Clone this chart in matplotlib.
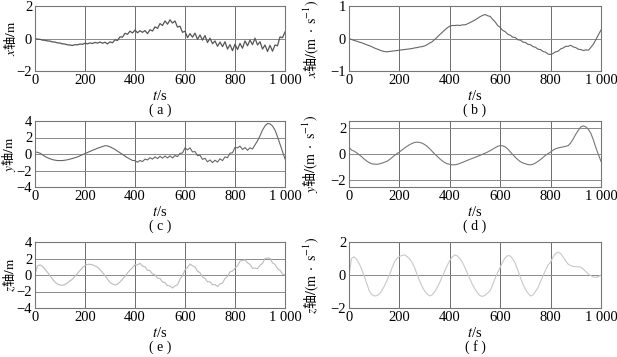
import matplotlib
matplotlib.use("Agg")
import matplotlib.pyplot as plt
import numpy as np

plt.rcParams["font.family"] = ["Liberation Serif", "Noto Sans CJK SC"]
plt.rcParams["mathtext.fontset"] = "stix"
plt.rcParams["axes.unicode_minus"] = True

# ── Data (t step 10 s) ───────────────────────────────────────────────────────
t = np.arange(0, 1001, 10)

x_pos = [0.00, -0.04, -0.05, -0.10, -0.11, -0.15, -0.16, -0.21, -0.22, -0.27,
         -0.28, -0.33, -0.34, -0.39, -0.40, -0.43, -0.38, -0.39, -0.34, -0.36,
         -0.29, -0.33, -0.27, -0.31, -0.24, -0.28, -0.22, -0.29, -0.23, -0.33,
         -0.21, -0.26, -0.08, -0.12, 0.10, 0.08, 0.32, 0.26, 0.45, 0.34,
         0.52, 0.35, 0.48, 0.38, 0.49, 0.30, 0.54, 0.46, 0.72, 0.62,
         0.92, 0.80, 1.08, 0.88, 1.15, 0.95, 1.08, 0.70, 0.76, 0.38,
         0.45, 0.05, 0.30, 0.08, 0.33, -0.05, 0.22, -0.10, 0.18, -0.25,
         0.02, -0.32, -0.15, -0.48, -0.22, -0.50, -0.20, -0.65, -0.38, -0.75,
         -0.35, -0.68, -0.30, -0.60, -0.15, -0.45, -0.10, -0.38, 0.02, -0.40,
         -0.20, -0.65, -0.40, -0.80, -0.42, -0.78, -0.40, -0.45, 0.10, 0.05,
         0.40]

x_vel = [0.00, -0.03, -0.06, -0.08, -0.11, -0.13, -0.16, -0.19, -0.22, -0.25,
         -0.29, -0.32, -0.35, -0.38, -0.40, -0.41, -0.40, -0.39, -0.38, -0.37,
         -0.36, -0.35, -0.34, -0.33, -0.32, -0.31, -0.29, -0.28, -0.26, -0.25,
         -0.23, -0.19, -0.14, -0.10, -0.03, 0.04, 0.12, 0.19, 0.26, 0.33,
         0.38, 0.40, 0.40, 0.41, 0.40, 0.42, 0.42, 0.45, 0.49, 0.53,
         0.57, 0.62, 0.67, 0.71, 0.74, 0.70, 0.68, 0.59, 0.51, 0.40,
         0.34, 0.25, 0.21, 0.13, 0.10, 0.04, 0.03, -0.04, -0.05, -0.11,
         -0.12, -0.18, -0.19, -0.25, -0.27, -0.33, -0.34, -0.40, -0.42, -0.48,
         -0.49, -0.46, -0.41, -0.39, -0.32, -0.29, -0.24, -0.24, -0.21, -0.26,
         -0.28, -0.33, -0.34, -0.37, -0.35, -0.36, -0.27, -0.17, -0.03, 0.12,
         0.26]

y_pos = [0.25, 0.20, 0.10, -0.10, -0.30, -0.45, -0.58, -0.68, -0.75, -0.79,
         -0.80, -0.79, -0.75, -0.70, -0.62, -0.55, -0.45, -0.35, -0.22, -0.08,
         0.05, 0.18, 0.32, 0.45, 0.57, 0.70, 0.80, 0.90, 1.00, 0.98,
         0.87, 0.72, 0.55, 0.35, 0.15, -0.05, -0.25, -0.45, -0.62, -0.78,
         -0.80, -1.00, -0.78, -0.92, -0.62, -0.72, -0.45, -0.62, -0.35, -0.55,
         -0.28, -0.50, -0.25, -0.48, -0.22, -0.48, -0.18, -0.32, 0.08, 0.12,
         0.75, 0.50, 0.75, 0.25, 0.30, -0.20, -0.15, -0.65, -0.52, -0.95,
         -0.72, -1.05, -0.75, -0.98, -0.58, -0.80, -0.35, -0.45, 0.10, 0.15,
         0.80, 0.75, 0.95, 0.55, 0.78, 0.45, 0.75, 0.60, 1.10, 1.60,
         2.20, 2.90, 3.40, 3.70, 3.65, 3.40, 2.90, 2.10, 1.20, 0.30,
         -0.60]

y_vel = [0.50, 0.30, 0.22, 0.10, -0.05, -0.20, -0.38, -0.53, -0.65, -0.74,
         -0.77, -0.78, -0.75, -0.70, -0.63, -0.56, -0.43, -0.28, -0.12, 0.02,
         0.15, 0.30, 0.45, 0.58, 0.70, 0.80, 0.87, 0.90, 0.88, 0.82,
         0.72, 0.58, 0.40, 0.20, 0.00, -0.18, -0.36, -0.52, -0.65, -0.74,
         -0.78, -0.82, -0.82, -0.78, -0.71, -0.64, -0.56, -0.48, -0.40, -0.33,
         -0.26, -0.18, -0.10, -0.02, 0.06, 0.15, 0.25, 0.36, 0.48, 0.58,
         0.64, 0.62, 0.54, 0.38, 0.17, -0.05, -0.25, -0.43, -0.58, -0.68,
         -0.74, -0.80, -0.82, -0.78, -0.68, -0.56, -0.42, -0.26, -0.10, 0.03,
         0.15, 0.30, 0.40, 0.46, 0.50, 0.54, 0.58, 0.64, 0.85, 1.15,
         1.50, 1.80, 2.05, 2.13, 2.05, 1.87, 1.55, 1.05, 0.46, -0.05,
         -0.56]

z_pos = [0.10, 1.10, 1.23, 1.05, 0.70, 0.33, -0.10, -0.50, -0.85, -1.10,
         -1.20, -1.25, -1.15, -0.95, -0.70, -0.50, -0.15, 0.20, 0.55, 0.90,
         1.15, 1.28, 1.30, 1.22, 1.10, 0.95, 0.65, 0.30, -0.05, -0.50,
         -0.90, -1.10, -1.20, -1.10, -0.85, -0.50, -0.15, 0.25, 0.60, 0.90,
         1.25, 1.22, 1.42, 1.08, 0.98, 0.58, 0.52, 0.12, 0.02, -0.38,
         -0.42, -0.85, -0.92, -1.30, -1.32, -1.58, -1.32, -1.20, -0.52, -0.08,
         0.62, 0.92, 1.33, 1.12, 0.98, 0.47, 0.28, -0.23, -0.42, -0.83,
         -0.82, -1.18, -1.17, -1.38, -1.07, -0.98, -0.42, -0.18, 0.38, 0.47,
         0.83, 1.12, 1.68, 1.77, 1.83, 1.47, 1.28, 0.82, 0.83, 0.77,
         1.18, 1.42, 1.98, 2.07, 2.03, 1.47, 1.28, 0.77, 0.58, 0.12,
         0.00]

z_vel = [0.00, 1.00, 1.10, 0.95, 0.70, 0.37, -0.05, -0.50, -0.95, -1.18,
         -1.27, -1.25, -1.16, -0.95, -0.68, -0.35, 0.00, 0.40, 0.78, 1.00,
         1.13, 1.18, 1.22, 1.12, 0.98, 0.78, 0.45, 0.05, -0.35, -0.70,
         -0.96, -1.15, -1.27, -1.20, -1.02, -0.76, -0.45, -0.10, 0.25, 0.58,
         0.88, 1.10, 1.22, 1.15, 1.00, 0.78, 0.45, 0.10, -0.25, -0.58,
         -0.86, -1.08, -1.25, -1.30, -1.22, -1.10, -0.96, -0.60, -0.20, 0.15,
         0.47, 0.80, 1.05, 1.18, 1.15, 0.98, 0.70, 0.30, -0.15, -0.55,
         -0.86, -1.10, -1.27, -1.22, -1.00, -0.76, -0.40, -0.05, 0.30, 0.60,
         0.78, 1.10, 1.30, 1.39, 1.30, 1.08, 0.85, 0.65, 0.57, 0.52,
         0.50, 0.50, 0.47, 0.35, 0.20, 0.06, -0.05, -0.12, -0.14, -0.10,
         0.00]

x_ticks = [0, 200, 400, 600, 800, 1000]
x_ticklabels = ["0", "200", "400", "600", "800", "1 000"]

# ── Panels ───────────────────────────────────────────────────────────────────
VEL_UNIT = r"$\mathrm{/(m\ \cdot\ s^{-1})}$"
PANELS = [
    # series, ylim, yticks, ylabel, colour, line width, caption
    (x_pos, (-2, 2), [-2, 0, 2], r"$x$轴$\mathrm{/m}$", "#555555", 0.9, "( a )"),
    (x_vel, (-1, 1), [-1, 0, 1], r"$x$轴" + VEL_UNIT, "#666666", 0.8, "( b )"),
    (y_pos, (-4, 4), [-4, -2, 0, 2, 4], r"$y$轴$\mathrm{/m}$", "#666666", 0.8, "( c )"),
    (y_vel, (-2.5, 2.5), [-2, 0, 2], r"$y$轴" + VEL_UNIT, "#777777", 0.8, "( d )"),
    (z_pos, (-4, 4), [-4, -2, 0, 2, 4], r"$z$轴$\mathrm{/m}$", "#bbbbbb", 0.8, "( e )"),
    (z_vel, (-2, 2), [-2, 0, 2], r"$z$轴" + VEL_UNIT, "#c8c8c8", 0.8, "( f )"),
]

W, H = 617, 357
fig = plt.figure(figsize=(W / 100, H / 100), dpi=100)

# axes boxes in pixels: left, top, width, height
lefts = [35, 349]
widths = [250, 252]
tops = [6, 121, 242]
heights = [65, 66, 66]

for k, (vals, ylim, yt, ylab, col, lw, cap) in enumerate(PANELS):
    row, c = divmod(k, 2)
    l, w = lefts[c], widths[c]
    tp, h = tops[row], heights[row]
    ax = fig.add_axes([l / W, 1 - (tp + h) / H, w / W, h / H])

    for gx in x_ticks[1:-1]:
        ax.axvline(gx, color="#555555", lw=0.6, zorder=1)
    for gy in yt:
        if ylim[0] < gy < ylim[1]:
            ax.axhline(gy, color="#8a8a8a", lw=0.7, zorder=1)

    ax.plot(t, vals, color=col, lw=lw, zorder=2)

    ax.set_xlim(0, 1000)
    ax.set_ylim(*ylim)
    ax.set_xticks(x_ticks)
    ax.set_xticklabels(x_ticklabels)
    ax.set_yticks(yt)
    ax.tick_params(length=0, labelsize=10.5, pad=2)
    for s in ax.spines.values():
        s.set_color("#777777")
        s.set_linewidth(0.8)

    ax.set_ylabel(ylab, family="Noto Sans CJK SC", fontsize=9.5 if c == 0 else 10)
    ax.yaxis.set_label_coords(-0.07 if c == 0 else -0.11, 0.5)

    ax.annotate(r"$t$/s", xy=(0.5, 0), xycoords="axes fraction",
                xytext=(0, -25), textcoords="offset pixels",
                ha="center", va="center", fontsize=10.5)
    ax.annotate(cap, xy=(0.5, 0), xycoords="axes fraction",
                xytext=(0, -39), textcoords="offset pixels",
                ha="center", va="center", fontsize=10)

fig.savefig("out.png", dpi=100, facecolor="white")
